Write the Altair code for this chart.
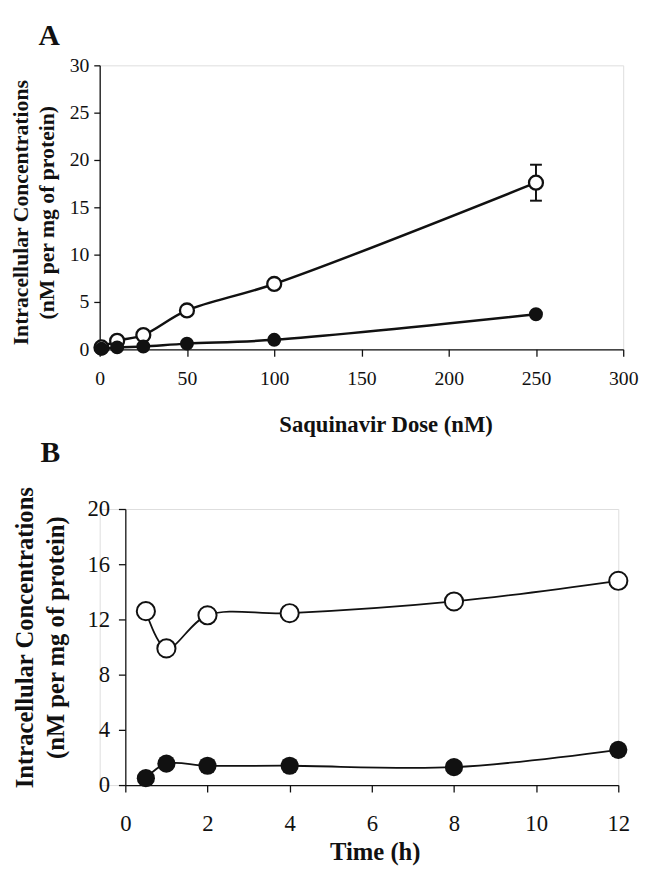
import altair as alt
import pandas as pd

# ---------------- data ----------------
dose = [1, 10, 25, 50, 100, 250]
dose_open = [0.2, 0.9, 1.5, 4.1, 6.9, 17.6]
dose_open_err = [0, 0, 0, 0, 0.3, 1.9]
dose_filled = [0.05, 0.2, 0.3, 0.6, 1.0, 3.7]

time_h = [0.5, 1, 2, 4, 8, 12]
time_open = [12.6, 9.9, 12.3, 12.45, 13.3, 14.8]
time_filled = [0.5, 1.55, 1.4, 1.4, 1.3, 2.55]

a_xticks = [0, 50, 100, 150, 200, 250, 300]
a_yticks = [0, 5, 10, 15, 20, 25, 30]
b_xticks = [0, 2, 4, 6, 8, 10, 12]
b_yticks = [0, 4, 8, 12, 16, 20]

y_title = ["Intracellular Concentrations", "(nM per mg of protein)"]

FONT = "Liberation Serif"
INK = "#111111"

dfA = pd.DataFrame({
    "x": dose + dose,
    "y": dose_open + dose_filled,
    "s": ["open"] * len(dose) + ["filled"] * len(dose),
    "err": dose_open_err + [0] * len(dose),
})
dfA["lo"] = dfA["y"] - dfA["err"]
dfA["hi"] = dfA["y"] + dfA["err"]
errA = dfA[dfA["err"] > 0.5]

dfB = pd.DataFrame({
    "x": time_h + time_h,
    "y": time_open + time_filled,
    "s": ["open"] * len(time_h) + ["filled"] * len(time_h),
})

common_axis = dict(grid=False, domainColor=INK, tickColor=INK, labelColor=INK,
                   titleColor=INK, labelFont=FONT, titleFont=FONT,
                   titleFontWeight="bold", domainWidth=1.3, tickWidth=1.3,
                   labelOverlap=False)

# ---------------- panel A ----------------
axA_x = alt.Axis(values=a_xticks, title="Saquinavir Dose (nM)", labelFlush=False,
                 tickSize=7, labelPadding=13, labelFontSize=20, titleFontSize=23,
                 titleX=290, titleY=83, titleBaseline="alphabetic", titleAlign="center",
                 **common_axis)
axA_y = alt.Axis(values=a_yticks, title=y_title, tickSize=6, labelPadding=5,
                 labelFontSize=20, titleFontSize=22, titleLineHeight=26,
                 titleAngle=270, titleX=-80, titleY=149, titleBaseline="middle",
                 titleAlign="center", **common_axis)
sxA = alt.Scale(domain=[0, 300], nice=False, zero=False)
syA = alt.Scale(domain=[0, 30], nice=False)


def xa(f="x"):
    return alt.X(f + ":Q", scale=sxA, axis=axA_x)


def ya(f="y"):
    return alt.Y(f + ":Q", scale=syA, axis=axA_y)


baseA = alt.Chart(dfA)
lineA = baseA.mark_line(interpolate="catmull-rom", color=INK, strokeWidth=2.5).encode(
    x=xa(), y=ya(), detail="s:N")
errRuleA = alt.Chart(errA).mark_rule(color=INK, strokeWidth=2).encode(
    x=xa(), y=ya("lo"), y2="hi:Q")
capLoA = alt.Chart(errA).mark_tick(orient="horizontal", size=12, thickness=2, color=INK,
                                   opacity=1).encode(x=xa(), y=ya("lo"))
capHiA = alt.Chart(errA).mark_tick(orient="horizontal", size=12, thickness=2, color=INK,
                                   opacity=1).encode(x=xa(), y=ya("hi"))
openA = baseA.transform_filter(alt.datum.s == "open").mark_point(
    shape="circle", filled=True, fill="white", stroke=INK, strokeWidth=2.3,
    size=200, opacity=1).encode(x=xa(), y=ya())
fillA = baseA.transform_filter(alt.datum.s == "filled").mark_point(
    shape="circle", filled=True, color=INK, size=200, opacity=1).encode(x=xa(), y=ya())

panelA = alt.layer(lineA, errRuleA, capLoA, capHiA, openA, fillA).properties(
    width=531, height=288,
    title=alt.TitleParams(text="A", anchor="start", frame="group", dx=-62, offset=-19,
                          baseline="alphabetic", font=FONT, fontSize=30,
                          fontWeight="bold", color=INK))

# ---------------- panel B ----------------
axB_x = alt.Axis(values=b_xticks, title="Time (h)", labelFlush=False,
                 tickSize=7, labelPadding=21, labelFontSize=23, titleFontSize=25,
                 titleX=279, titleY=75, titleBaseline="alphabetic", titleAlign="center",
                 **common_axis)
axB_y = alt.Axis(values=b_yticks, title=y_title, tickSize=7, labelPadding=9,
                 labelFontSize=23, titleFontSize=25, titleLineHeight=31, offset=-26,
                 titleAngle=270, titleX=-102, titleY=130, titleBaseline="middle",
                 titleAlign="center", **common_axis)
sxB = alt.Scale(domain=[0, 12], nice=False, zero=False, range=[26, 526])
syB = alt.Scale(domain=[0, 20], nice=False)


def xb(f="x"):
    return alt.X(f + ":Q", scale=sxB, axis=axB_x)


def yb(f="y"):
    return alt.Y(f + ":Q", scale=syB, axis=axB_y)


baseB = alt.Chart(dfB)
lineB = baseB.mark_line(interpolate="catmull-rom", color=INK, strokeWidth=1.8).encode(
    x=xb(), y=yb(), detail="s:N")
openB = baseB.transform_filter(alt.datum.s == "open").mark_point(
    shape="circle", filled=True, fill="white", stroke=INK, strokeWidth=2,
    size=340, opacity=1).encode(x=xb(), y=yb())
fillB = baseB.transform_filter(alt.datum.s == "filled").mark_point(
    shape="circle", filled=True, color=INK, size=340, opacity=1).encode(x=xb(), y=yb())

panelB = alt.layer(lineB, openB, fillB).properties(
    width=526, height=280,
    title=alt.TitleParams(text="B", anchor="start", frame="group", dx=-60, offset=-5,
                          baseline="alphabetic", font=FONT, fontSize=30,
                          fontWeight="bold", color=INK))

chart = alt.vconcat(panelA, panelB, spacing=0).properties(
    padding={"left": 1, "top": 6, "right": 0, "bottom": 0}
).configure_view(stroke=None).configure(background="white")

chart.save("out.html", embed_options={"renderer": "svg", "actions": False})
